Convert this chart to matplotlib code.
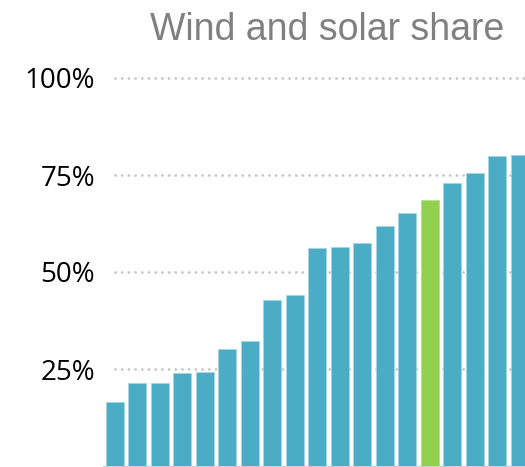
import numpy as np
import matplotlib.pyplot as plt

# data (share in %)
shares = [16.5, 21.3, 21.4, 24.0, 24.3, 30.2, 32.2, 42.8, 44.1, 56.1,
          56.4, 57.4, 61.9, 65.1, 68.6, 73.0, 75.6, 80.0, 80.2]
highlight = 14
ticks = [25, 50, 75, 100]
tick_labels = ['25%', '50%', '75%', '100%']
title = 'Wind and solar share'

W, H = 525, 467
fig = plt.figure(figsize=(W / 100, H / 100), dpi=100)

# axes placed in pixels: x=-0.5 at 103.25px, 22.5px per bar; 0% at 466px, 3.88px per %
left_px = 103.25
bottom_px = 1
ytop = 105
ax = fig.add_axes([left_px / W, bottom_px / H, (W - left_px) / W, ytop * 3.88 / H])

x = np.arange(len(shares))
colors = ['#4BACC6'] * len(shares)
colors[highlight] = '#92D050'
edges = ['#A5D5E3'] * len(shares)
edges[highlight] = '#B5E08A'
ax.bar(x, shares, width=0.8, color=colors, edgecolor=edges, linewidth=0.6, zorder=3)

for t in ticks:
    ax.plot([0.0, 30], [t, t], color='#C4C4C4', lw=2.0,
            linestyle=(0, (0.01, 2.4)), dash_capstyle='round', zorder=1)

ax.set_xlim(-0.5, (W - left_px) / 22.5 - 0.5)
ax.set_ylim(0, ytop)
ax.set_yticks(ticks)
ax.set_yticklabels(tick_labels, fontsize=20, family='Open Sans', color='black')
ax.tick_params(axis='y', length=0, pad=6)
ax.set_xticks([])

for s in ['top', 'right', 'left']:
    ax.spines[s].set_visible(False)
ax.spines['bottom'].set_color('#D0D0D0')
ax.spines['bottom'].set_linewidth(1.0)

fig.text(327 / W, 1 - 40 / H, title, ha='center', va='baseline',
         fontsize=27, family='Liberation Sans', color='#808080')

fig.savefig('out.png', dpi=100)
